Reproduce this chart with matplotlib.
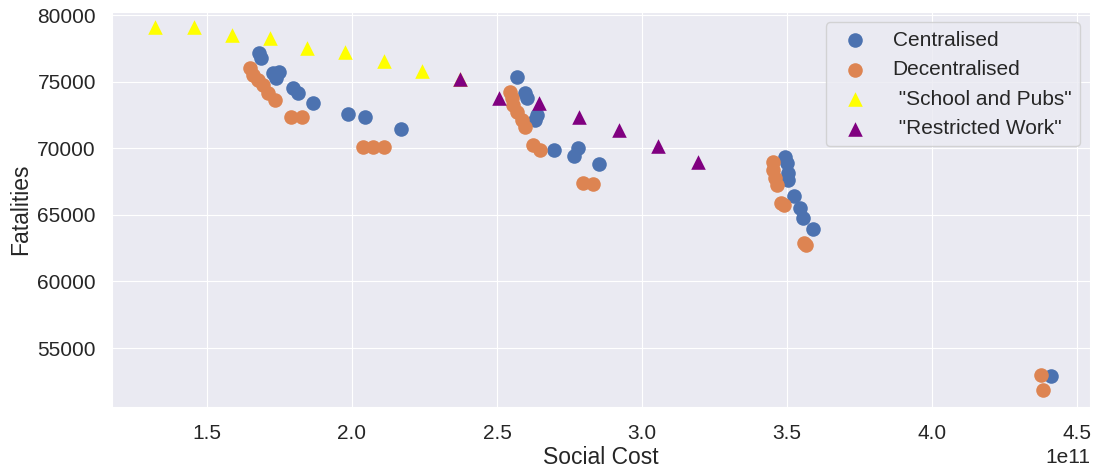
import matplotlib
matplotlib.use("Agg")
import matplotlib.pyplot as plt
import seaborn as sns

# social cost (x1e11) and fatalities
central_cost = [1.679, 1.686, 1.728, 1.748, 1.738, 1.797, 1.814, 1.866, 1.986, 2.045, 2.169,
                2.569, 2.597, 2.603, 2.638, 2.631, 2.697, 2.779, 2.766, 2.852,
                3.493, 3.500, 3.503, 3.503, 3.524, 3.545, 3.555, 3.590, 4.410]
central_fatal = [77147, 76771, 75645, 75720, 75270, 74519, 74144, 73393, 72567, 72342, 71441,
                 75345, 74144, 73768, 72492, 72117, 69864, 70014, 69414, 68813,
                 69339, 68888, 68137, 67612, 66410, 65510, 64759, 63933, 52896]

decentral_cost = [1.648, 1.659, 1.676, 1.693, 1.710, 1.734, 1.790, 1.828, 2.038, 2.072, 2.110,
                  2.545, 2.552, 2.555, 2.569, 2.586, 2.597, 2.624, 2.648, 2.797, 2.831,
                  3.452, 3.452, 3.459, 3.466, 3.479, 3.490, 3.559, 3.566, 4.376, 4.383]
decentral_fatal = [76021, 75495, 75120, 74744, 74144, 73618, 72342, 72342, 70089, 70089, 70089,
                   74219, 73768, 73243, 72717, 72117, 71591, 70240, 69864, 67387, 67312,
                   68963, 68363, 67762, 67236, 65885, 65735, 62882, 62732, 52971, 51845]

school_cost = [1.321, 1.455, 1.586, 1.717, 1.845, 1.976, 2.110, 2.241, 2.372]
school_fatal = [79099, 79099, 78498, 78273, 77522, 77222, 76546, 75795, 75195]

work_cost = [2.372, 2.507, 2.645, 2.783, 2.921, 3.055, 3.193]
work_fatal = [75195, 73768, 73393, 72342, 71366, 70165, 68963]


def plot_costs():
    sns.set_style("darkgrid")
    plt.rcParams['font.family'] = ['Liberation Sans', 'DejaVu Sans']

    fig, ax = plt.subplots(figsize=(10.97, 4.73), dpi=100)
    fig.subplots_adjust(left=0.102, right=0.9936, top=0.9746, bottom=0.1395)

    s = 110
    ax.scatter([c * 1e11 for c in central_cost], central_fatal, s=s, color="#4C72B0",
               label="Centralised", linewidths=0)
    ax.scatter([c * 1e11 for c in decentral_cost], decentral_fatal, s=s, color="#DD8452",
               label="Decentralised", linewidths=0)
    ax.scatter([c * 1e11 for c in school_cost], school_fatal, s=s, marker="^", color="yellow",
               label=' "School and Pubs"', linewidths=0)
    ax.scatter([c * 1e11 for c in work_cost], work_fatal, s=s, marker="^", color="purple",
               label=' "Restricted Work"', linewidths=0)

    ax.set_xlim(1.172e11, 4.545e11)
    ax.set_ylim(50570, 80225)

    ax.set_xlabel("Social Cost", fontsize=16.5, labelpad=2)
    ax.set_ylabel("Fatalities", fontsize=16.5, labelpad=4)
    ax.tick_params(axis="both", labelsize=15)
    ax.tick_params(axis="x", pad=9)
    ax.tick_params(axis="y", pad=8)
    ax.xaxis.get_offset_text().set_fontsize(15)
    ax.legend(loc="upper right", fontsize=15)

    plt.savefig("out.png", dpi=100)
    plt.close()


if __name__ == "__main__":
    plot_costs()
